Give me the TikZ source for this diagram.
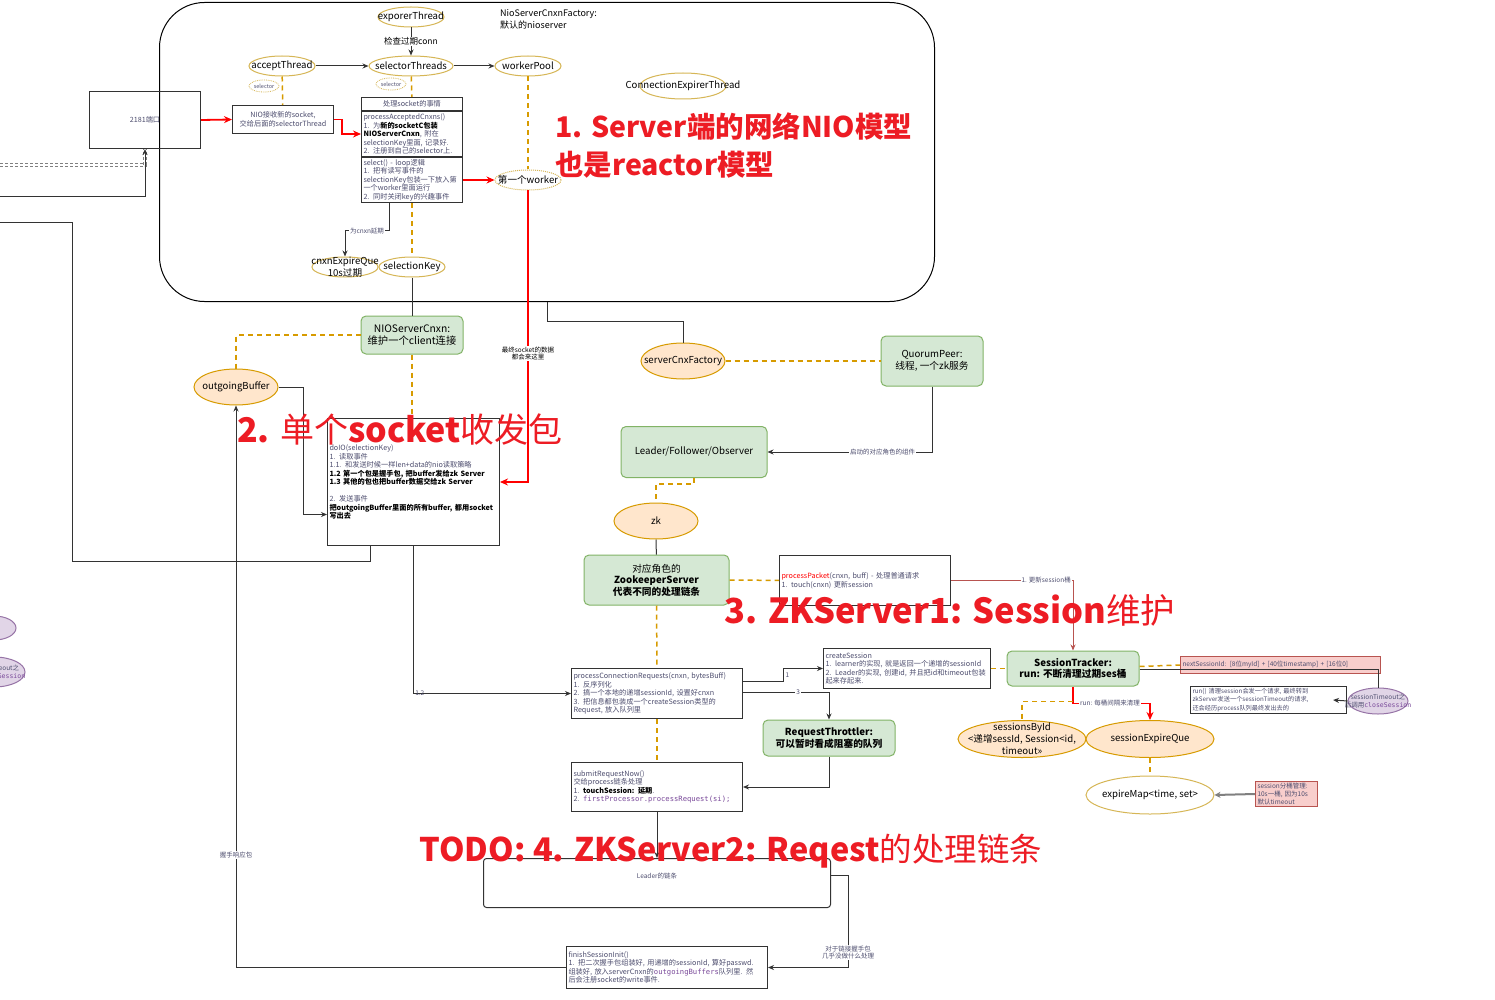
\documentclass[tikz,border=0pt]{standalone}
\usepackage{fontspec}
\setmainfont{Noto Sans CJK SC}
\setmonofont{DejaVu Sans Mono}
\usepackage{xcolor}
\usepackage{tikz}
\usetikzlibrary{arrows.meta,positioning,shapes.geometric}
\definecolor{goldline}{HTML}{D6B656}
\definecolor{orangeline}{HTML}{D79B00}
\definecolor{peach}{HTML}{FFE6CC}
\definecolor{softgreen}{HTML}{D5E8D4}
\definecolor{greenline}{HTML}{82B366}
\definecolor{softpink}{HTML}{F8CECC}
\definecolor{pinkline}{HTML}{B85450}
\definecolor{softpurple}{HTML}{E1D5E7}
\definecolor{purpleline}{HTML}{9673A6}
\definecolor{notetext}{HTML}{4D4D6E}
\definecolor{linegray}{HTML}{333333}
\definecolor{titlered}{HTML}{ED1C24}
\definecolor{codepurple}{HTML}{7A4A9A}
\newcommand{\keytxt}[1]{{\color{black}\bfseries #1}}
\newcommand{\codetxt}[1]{{\color{codepurple}\ttfamily #1}}
\newcommand{\cn}[1]{{\mdseries #1}}
\tikzset{
  thread/.style={ellipse, draw=goldline, line width=1pt, fill=white, inner xsep=-10pt, inner ysep=-2pt, minimum width=66pt, minimum height=20pt, font=\fontsize{9.6}{10}\selectfont},
  dotthread/.style={thread, densely dotted},
  tinythread/.style={ellipse, draw=goldline, densely dotted, line width=0.8pt, fill=white, inner xsep=-6pt, inner ysep=-2pt, minimum width=30pt, minimum height=12pt, text=notetext, font=\fontsize{5.5}{6}\selectfont},
  holder/.style={ellipse, draw=orangeline, line width=1pt, fill=peach, inner xsep=-10pt, inner ysep=-2pt, minimum width=84pt, minimum height=36pt, font=\fontsize{9.6}{10}\selectfont},
  oddell/.style={ellipse, draw=purpleline, fill=softpurple, line width=1pt, minimum width=60pt, minimum height=26pt},
  ellab/.style={font=\fontsize{9.6}{12}\selectfont, align=center, inner sep=0pt},
  oddlab/.style={font=\fontsize{6.5}{8.5}\selectfont, align=center, inner sep=0pt, text=notetext},
  greenbox/.style={draw=greenline, fill=softgreen, line width=1pt, rounded corners=5pt, align=center, font=\fontsize{9.7}{11.5}\selectfont},
  note/.style={draw=linegray, line width=1pt, fill=white, anchor=north west, align=left, inner xsep=2pt, inner ysep=1pt, text=notetext, font=\fontsize{7.2}{8.5}\selectfont},
  pinknote/.style={note, draw=pinkline, fill=softpink, font=\fontsize{6.5}{8}\selectfont},
  link/.style={draw=linegray, line width=1pt},
  arrow/.style={link, -{Stealth[length=6pt, width=5pt]}},
  redarrow/.style={draw=red, line width=1.8pt, -{Stealth[length=8pt, width=7pt]}},
  pinkarrow/.style={draw=pinkline, line width=1pt, -{Stealth[length=6pt, width=5pt]}},
  grayarrow/.style={draw=gray, line width=2pt, -{Stealth[length=6pt, width=6pt]}},
  dashlink/.style={draw=orangeline, line width=1.5pt, dash pattern=on 5pt off 4pt},
  dotlink/.style={draw=gray, line width=0.7pt, densely dashed, double=white, double distance=2pt},
  steplab/.style={fill=white, inner sep=1pt, font=\fontsize{8.5}{9}\selectfont},
  tinylab/.style={fill=white, inner sep=1pt, text=notetext, align=center, font=\fontsize{6.5}{7.5}\selectfont},
  bigtitle/.style={text=titlered, inner sep=0pt, align=left, font=\fontsize{31}{38}\selectfont\bfseries}
}

\begin{document}
\begin{tikzpicture}[x=1pt, y=-1pt]
  \useasboundingbox (0,0) rectangle (1495,1000);
  \fill[white] (0,0) rectangle (1495,1000);
  \clip (0,0) rectangle (1495,1000);

  % NIO server factory
  \node[draw=black, line width=1pt, rounded corners=45pt, minimum width=775pt, minimum height=299pt, anchor=north west, inner sep=0pt] (factory) at (159,2) {};
  \node[anchor=north west, align=left, inner sep=0pt, font=\fontsize{9}{12}\selectfont] (factorytxt) at (500,9) {NioServerCnxnFactory:\\默认的nioserver};
  \node[thread] (exporer) at (411,17) {exporerThread};
  \node[thread] (accept) at (282,66) {acceptThread};
  \node[thread, minimum width=84pt] (selector) at (411,66) {selectorThreads};
  \node[thread] (workerpool) at (528,66) {workerPool};
  \node[tinythread] (acceptsel) at (264,86) {selector};
  \node[tinythread] (selectsel) at (391,84) {selector};
  \node[thread, minimum width=86pt, minimum height=26pt, label={[ellab, font=\fontsize{9.6}{10}\selectfont]center:ConnectionExpirerThread}] (expirer) at (683,86) {};

  \node[note, fill=none, align=center, text width=107pt, minimum height=57pt] (port) at (89,91) {2181端口};
  \node[note, align=center, text width=97pt, minimum height=28pt] (nioaccept) at (232,105) {NIO接收新的socket,\\交给后面的selectorThread};
  \node[note, align=center, text width=97pt, minimum height=13pt] (sockhead) at (361,97) {处理socket的事情};
  \node[note, text width=97pt, minimum height=45pt, below=0pt of sockhead] (sockacc) {processAcceptedCnxns()\\1. 为\keytxt{新的socketC包装}\\\keytxt{NIOServerCnxn}, 附在\\selectionKey里面, 记录好.\\2. 注册到自己的selector上.};
  \node[note, text width=97pt, minimum height=45pt, below=0pt of sockacc] (socksel) {select() - loop逻辑\\1. 把有读写事件的\\selectionKey包装一下放入第\\一个worker里面运行\\2. 同时关闭key的兴趣事件};
  \node[dotthread] (firstworker) at (528,180) {第一个worker};
  \node[thread, label={[ellab]center:{cnxnExpireQue\\10s过期}}] (cnxnexp) at (345,267) {};
  \node[thread] (selkey) at (412,267) {selectionKey};

  % single connection
  \node[greenbox, minimum width=102pt, minimum height=38pt, font=\fontsize{10.3}{12.5}\selectfont] (nioconn) at (412,335) {NIOServerCnxn:\\维护一个client连接};
  \node[holder] (outbuf) at (236,387) {outgoingBuffer};
  \node[note, text width=168pt, minimum height=127pt] (doio) at (327,418) {doIO(selectionKey)\\1. 读取事件\\1.1. 和发送时候一样len+data的nio读取策略\\\keytxt{1.2 第一个包是握手包, 把buffer发给zk Server}\\\keytxt{1.3 其他的包也把buffer数据交给zk Server}\\[8.5pt]2. 发送事件\\\keytxt{把outgoingBuffer里面的所有buffer, 都用socket}\\\keytxt{写出去}};

  % zk server roles
  \node[holder] (scf) at (683,361) {serverCnxFactory};
  \node[greenbox, minimum width=102pt, minimum height=50pt] (quorum) at (932,361) {QuorumPeer:\\线程, 一个zk服务};
  \node[greenbox, minimum width=146pt, minimum height=51pt] (leader) at (694,452) {Leader/Follower/Observer};
  \node[holder] (zk) at (656,521) {zk};
  \node[greenbox, minimum width=145pt, minimum height=50pt] (zkserver) at (656.5,580) {对应角色的\\\textbf{ZookeeperServer}\\\textbf{代表不同的处理链条}};
  \node[note, text width=167pt, minimum height=50pt] (packet) at (779,555) {\textcolor{red}{processPacket}(cnxn, buff) - 处理普通请求\\1. touch(cnxn) 更新session};
  \node[note, text width=167pt, minimum height=50pt] (procconn) at (571,668) {processConnectionRequests(cnxn, bytesBuff)\\1. 反序列化\\2. 搞一个本地的递增sessionId, 设置好cnxn\\3. 把信息都包装成一个createSession类型的\\Request, 放入队列里};
  \node[note, text width=163pt, minimum height=40pt] (createsess) at (823,648) {createSession\\1. learner的实现, 就是返回一个递增的sessionId\\2. Leader的实现, 创建id, 并且把id和timeout包装\\起来存起来.};
  \node[greenbox, minimum width=132pt, minimum height=36pt] (throttler) at (829,738) {\textbf{RequestThrottler:}\\\textbf{可以暂时看成阻塞的队列}};
  \node[note, text width=167pt, minimum height=49pt] (submit) at (571,762) {submitRequestNow()\\交给process链条处理\\1. \keytxt{touchSession: 延期}.\\2. \codetxt{firstProcessor.processRequest(si);}};
  \node[note, rounded corners=3pt, minimum width=347pt, minimum height=49pt, label={[tinylab, yshift=-22pt]north:Leader的链条}] (chain) at (483,858) {};
  \node[note, text width=197pt, minimum height=42pt] (finish) at (566,946) {finishSessionInit()\\1. 把二次握手包组装好, 用递增的sessionId, 算好passwd.\\组装好, 放入serverCnxn的\codetxt{outgoingBuffers}队列里. 然\\后会注册socket的write事件.};

  % session tracker
  \node[greenbox, minimum width=132pt, minimum height=35pt] (tracker) at (1073,668.5) {\textbf{SessionTracker:}\\\textbf{run: 不断清理过期ses桶}};
  \node[pinknote, text width=196pt, minimum height=17pt] (nextid) at (1180,656) {nextSessionId: [8位myId] + [40位timestamp] + [16位0]};
  \node[note, text width=152pt, minimum height=27pt, font=\fontsize{6.2}{8.3}\selectfont] (runbox) at (1190,686) {run() 清理session会发一个请求, 最终转到\\zkServer发送一个sessionTimeout的请求,\\还会经历process队列最终发出去的};
  \node[oddell, label={[oddlab]center:{sessionTimeout之\\后调用\codetxt{closeSession}}}] (closer) at (1378,701) {};
  \node[holder, minimum width=128pt, minimum height=37pt, label={[ellab]center:{sessionsById\\<递增sessId, Session<id,\\timeout>>}}] (sessbyid) at (1022,739) {};
  \node[holder, minimum width=128pt, minimum height=37pt] (expque) at (1150,739) {sessionExpireQue};
  \node[thread, minimum width=128pt, minimum height=38pt] (expmap) at (1150,795) {expireMap<time, set>};
  \node[pinknote, text width=58pt, minimum height=25pt] (bucket) at (1255,781) {session分桶管理:\\10s一桶, 因为10s\\默认timeout};
  \node[oddell, minimum width=44pt, minimum height=24pt] (leftodd) at (-6,628) {};
  \node[oddell, minimum width=62pt, minimum height=30pt, label={[oddlab, xshift=-2pt]center:{sessionTimeout之\\后调用\codetxt{closeSession}}}] (leftclose) at (-6,672) {};

  \coordinate (clientdot) at (0,165);
  \coordinate (clientin) at (0,197);
  \coordinate (clientout) at (0,223);

  % connectors, upper part
  \draw[arrow] (exporer) -- node[steplab] {检查过期conn} (selector);
  \draw[arrow] (accept) -- (selector);
  \draw[arrow] (selector) -- (workerpool);
  \draw[dashlink] (accept) -- (nioaccept);
  \draw[dashlink] (selector) -- (sockhead);
  \draw[dashlink] (workerpool) -- (firstworker);
  \draw[redarrow] (port.east) -- (nioaccept.west);
  \draw[redarrow] (nioaccept.east) -- ++(8,0) |- (sockacc.west);
  \draw[redarrow] (socksel.east |- firstworker) -- (firstworker);
  \draw[redarrow] (firstworker) |- node[tinylab, pos=0.28, text=black] {最终socket的数据\\都会来这里} (doio.east);
  \draw[arrow] ([xshift=-23pt]socksel.south) -- ++(0,28) -| node[tinylab, pos=0.25] {为cnxn延期} (cnxnexp.north);
  \draw[dashlink] (socksel.south) -- (selkey);
  \draw[link] (selkey) -- (nioconn);
  \draw[dashlink] (nioconn.west) -| (outbuf.north);
  \draw[dashlink] (nioconn) -- (doio.north -| nioconn);
  \draw[arrow] (outbuf.east) -- ++(25,0) |- ([yshift=-32.5pt]doio.west);
  \draw[dotlink] (clientdot) -| (port.south);
  \draw[arrow] (clientin) -| (port.south);
  \draw[link] (clientout) -- ++(72,0) -- ++(0,338) -| ([xshift=-43pt]doio.south);
  \draw[arrow] (finish.west) -| node[tinylab, pos=0.6] {握手响应包} (outbuf.south);
  \draw[arrow] (doio.south) |- node[tinylab, pos=0.52, fill=none] {1.2} (procconn.west);

  % connectors, zk server
  \draw[link] (factory.south) -- ++(0,19) -| (scf.north);
  \draw[dashlink] (scf) -- (quorum);
  \draw[arrow] (quorum.south) |- node[tinylab, pos=0.65] {启动的对应角色的组件} (leader.east);
  \draw[dashlink] (leader.south) -- ++(0,6) -| (zk.north);
  \draw[link] (zk) -- (zkserver);
  \draw[dashlink] (zkserver) -- (packet);
  \draw[pinkarrow] (packet.east) -| node[tinylab, pos=0.39] {1. 更新session桶} (tracker.north);
  \draw[dashlink] (zkserver.south) -- (procconn.north);
  \draw[dashlink] (procconn.south) -- (submit.north);
  \draw[arrow] ([yshift=12pt]procconn.east) -- ++(40,0) |- node[tinylab, pos=0.25, right=1pt, fill=none] {1} (createsess.west);
  \draw[arrow] ([yshift=1pt]procconn.east) -| node[tinylab, pos=0.32] {3} (throttler.north);
  \draw[dashlink] (createsess) -- (tracker);
  \draw[arrow] (throttler.south) |- (submit.east);
  \draw[arrow] (submit) -- (chain);
  \draw[arrow] ([yshift=8pt]chain.east) -- ++(17,0) |- node[tinylab, pos=0.42] {对于链接握手包\\几乎没做什么处理} (finish.east);

  % connectors, session tracker
  \draw[dashlink] ([yshift=2pt]tracker.east) -- (nextid.west);
  \draw[link] ([yshift=-1pt]tracker.east) -| (closer.north);
  \draw[arrow] (closer.west) -- ([xshift=-14pt]runbox.east);
  \draw[redarrow] (tracker.south) -- ++(0,17) -| node[tinylab, pos=0.24] {run: 每桶间隔来清理} (expque.north);
  \draw[dashlink] ([yshift=-15pt]tracker.south) -| (sessbyid.north);
  \draw[dashlink] (expque) -- (expmap);
  \draw[grayarrow] (bucket.west) -- (expmap.east);

  % section titles
  \node[bigtitle, anchor=north west, font=\fontsize{28.5}{38}\selectfont\bfseries] (titlenio) at (555,113) {1. Server端的网络NIO模型\\也是reactor模型};
  \node[bigtitle, font=\fontsize{34}{38}\selectfont\bfseries] (titlesock) at (400,430) {2. \cn{单个}socket\cn{收发包}};
  \node[bigtitle, font=\fontsize{34.5}{38}\selectfont\bfseries] (titlesess) at (950,610) {3. ZKServer1: Session\cn{维护}};
  \node[bigtitle, font=\fontsize{32.5}{38}\selectfont\bfseries] (titlereq) at (731,851) {TODO: 4. ZKServer2: Reqest\cn{的处理链条}};
\end{tikzpicture}
\end{document}
